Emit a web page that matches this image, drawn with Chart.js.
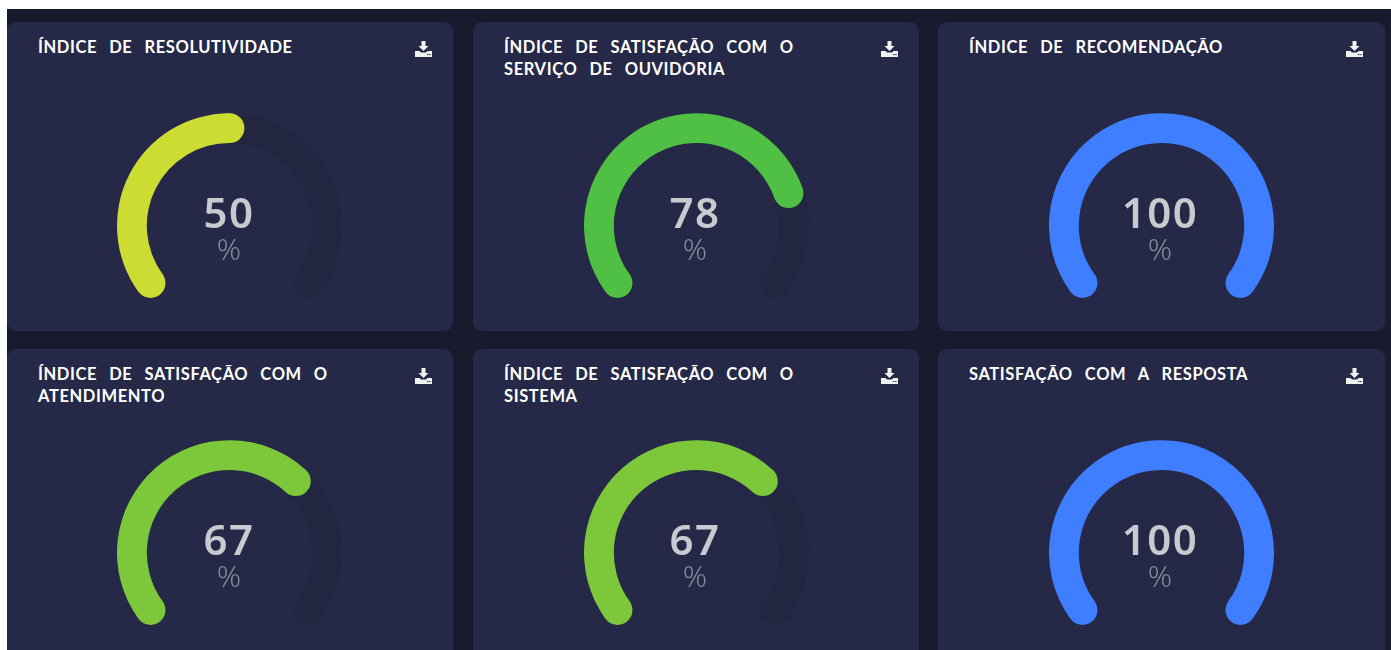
<!DOCTYPE html>
<html lang="pt">
<head>
<meta charset="utf-8">
<title>Índices</title>
<script src="https://cdn.jsdelivr.net/npm/chart.js@4/dist/chart.umd.min.js"></script>
<style>
    html, body { margin: 0; padding: 0; background: #fff; overflow: hidden; }
    #page { position: absolute; left: 7px; top: 9px; width: 1384px; height: 641px; background: #181b2e; overflow: hidden; }
    .card { position: absolute; width: 446px; height: 309px; background: #252947; border-radius: 9px; }
    .card:nth-child(3n) { width: 447px; }
    .card h2 {
        position: absolute; left: 31px; top: 15px; width: 340px; margin: 0;
        font: 700 16.5px/21.5px Lato, sans-serif; color: #fff;
        letter-spacing: 0.6px; word-spacing: 7.5px;
    }
    .card svg { position: absolute; left: 408px; top: 19px; }
    .card canvas { position: absolute; left: 110px; top: 68px; }
    .card:not(:nth-child(3n+1)) canvas { left: 111px; }
    .num { position: absolute; left: -1px; width: 446px; text-align: center; top: 165px;
        font: 600 42px/50px "Noto Sans", sans-serif; color: #c9cacf; letter-spacing: 1.5px; }
    .unit { position: absolute; left: -1px; width: 446px; text-align: center; top: 208px;
        font: 300 30px/38px "Noto Sans", sans-serif; color: #858897; }
</style>
</head>
<body>
<div id="page"></div>
<script>
// =========================
// Data
// =========================
const titles = [
    'ÍNDICE DE RESOLUTIVIDADE',
    'ÍNDICE DE SATISFAÇÃO COM O SERVIÇO DE OUVIDORIA',
    'ÍNDICE DE RECOMENDAÇÃO',
    'ÍNDICE DE SATISFAÇÃO COM O ATENDIMENTO',
    'ÍNDICE DE SATISFAÇÃO COM O SISTEMA',
    'SATISFAÇÃO COM A RESPOSTA'
];
const values = [50, 78, 100, 67, 67, 100];
const unit = '%';
const maxValue = 100;

const barColors = ['#cddc33', '#50c044', '#3f7eff', '#7cc83a', '#7cc83a', '#3f7eff'];
const trackColor = '#222641';
const cardLeft = [0, 466, 931];
const cardTop = [13, 340];

// Round caps: drawn on the ends of the library's own arcs
const roundCaps = {
    id: 'roundCaps',
    afterDatasetDraw(chart) {
        let ctx = chart.ctx;
        let arcs = chart.getDatasetMeta(0).data;
        let drawCap = function (arc, angle) {
            let mid = (arc.innerRadius + arc.outerRadius) / 2;
            let size = (arc.outerRadius - arc.innerRadius) / 2;
            ctx.fillStyle = arc.options.backgroundColor;
            ctx.beginPath();
            ctx.arc(arc.x + Math.cos(angle) * mid, arc.y + Math.sin(angle) * mid, size, 0, Math.PI * 2);
            ctx.fill();
        };
        ctx.save();
        // track first (far end only), then the value on top
        if (arcs[1].circumference > 0) drawCap(arcs[1], arcs[1].endAngle);
        drawCap(arcs[0], arcs[0].startAngle);
        drawCap(arcs[0], arcs[0].endAngle);
        ctx.restore();
    }
};

const downloadIcon = '<svg width="17" height="16" viewBox="0 0 17 16">' +
    '<path fill="#f2f2f2" d="M6.5 0h4v5h3L8.5 10 3.5 5h3z"/>' +
    '<path fill="#f2f2f2" d="M0 10h4.5L6 11.5h5L12.5 10H17v6H0z"/>' +
    '<rect x="12" y="13" width="1.4" height="1.1" fill="#252947"/>' +
    '<rect x="14.2" y="13" width="1.4" height="1.1" fill="#252947"/></svg>';

let page = document.getElementById('page');

titles.forEach(function (title, i) {
    let card = document.createElement('div');
    card.className = 'card';
    card.style.left = cardLeft[i % 3] + 'px';
    card.style.top = cardTop[Math.floor(i / 3)] + 'px';
    card.innerHTML = '<h2>' + title + '</h2>' + downloadIcon +
        '<canvas width="225" height="225"></canvas>' +
        '<div class="num">' + values[i] + '</div>' +
        '<div class="unit">' + unit + '</div>';
    page.appendChild(card);

    new Chart(card.querySelector('canvas').getContext('2d'), {
        type: 'doughnut',
        data: {
            labels: ['Valor', 'Restante'],
            datasets: [{
                data: [values[i], maxValue - values[i]],
                backgroundColor: [barColors[i], trackColor],
                borderWidth: 0
            }]
        },
        options: {
            responsive: false,
            animation: false,
            rotation: -126,
            circumference: 252,
            cutout: '73.5%',
            plugins: {
                legend: { display: false },
                tooltip: { enabled: false }
            }
        },
        plugins: [roundCaps]
    });
});
</script>
</body>
</html>
